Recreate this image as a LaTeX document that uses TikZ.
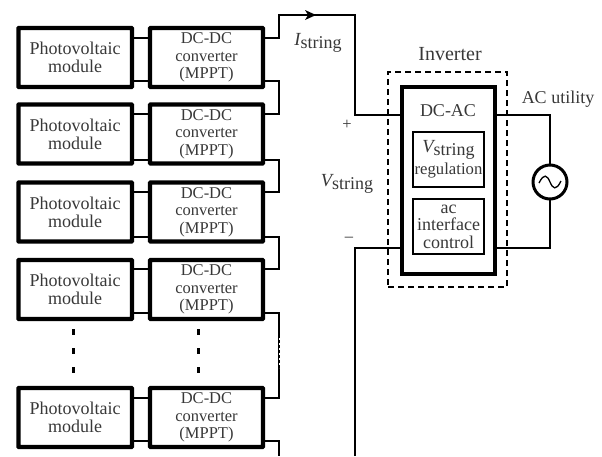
\documentclass[tikz,border=0pt]{standalone}
\usepackage{fontspec}
\setmainfont{Liberation Serif}
\definecolor{ink}{gray}{0.22}
\tikzset{
  x=1pt,y=-1pt,
  txt/.style={text=ink,font=\fontsize{16.5}{17.5}\selectfont,align=center,inner sep=0pt,outer sep=0pt},
  heavy/.style={draw=black,line width=4.2pt,inner sep=0pt,outer sep=0pt,rounded corners=0.5pt,txt},
  pvbox/.style={heavy,font=\fontsize{18}{18}\selectfont,minimum width=113.5pt,minimum height=59pt},
  dcbox/.style={heavy,minimum width=113pt,minimum height=59pt},
  wire/.style={draw=black,line width=2.2pt,line join=miter},
  thinbox/.style={draw=black,line width=2.2pt,inner sep=0pt,outer sep=0pt,minimum width=71pt,txt,font=\fontsize{18}{17.5}\selectfont},
  dotcol/.style={draw=black,line width=3pt,dash pattern=on 6pt off 13pt}
}
\newcommand{\labelsub}[2]{{\fontsize{18.5}{17}\selectfont\itshape #1}\raisebox{-3pt}{\fontsize{18}{17}\selectfont #2}}
\begin{document}
\begin{tikzpicture}
\useasboundingbox (0,0) rectangle (602,456);
% modules and converters
\node[pvbox] (p1) at (75.2,57.5) {Photovoltaic\\module};
\node[pvbox] (p2) at (75.2,134) {Photovoltaic\\module};
\node[pvbox] (p3) at (75.2,212) {Photovoltaic\\module};
\node[pvbox] (p4) at (75.2,289.5) {Photovoltaic\\module};
\node[pvbox] (p5) at (75.2,417.5) {Photovoltaic\\module};
\node[dcbox] (c1) at (206.5,57.5) {DC-DC\\converter\\(MPPT)};
\node[dcbox] (c2) at (206.5,134) {DC-DC\\converter\\(MPPT)};
\node[dcbox] (c3) at (206.5,212) {DC-DC\\converter\\(MPPT)};
\node[dcbox] (c4) at (206.5,289.5) {DC-DC\\converter\\(MPPT)};
\node[dcbox] (c5) at (206.5,417.5) {DC-DC\\converter\\(MPPT)};
% module to converter links
\draw[wire] (p1.east |- 0,38) -- (c1.west |- 0,38);
\draw[wire] (p1.east |- 0,81) -- (c1.west |- 0,81);
\draw[wire] (p2.east |- 0,114) -- (c2.west |- 0,114);
\draw[wire] (p2.east |- 0,160) -- (c2.west |- 0,160);
\draw[wire] (p3.east |- 0,192) -- (c3.west |- 0,192);
\draw[wire] (p3.east |- 0,237) -- (c3.west |- 0,237);
\draw[wire] (p4.east |- 0,269) -- (c4.west |- 0,269);
\draw[wire] (p4.east |- 0,313) -- (c4.west |- 0,313);
\draw[wire] (p5.east |- 0,398) -- (c5.west |- 0,398);
\draw[wire] (p5.east |- 0,441) -- (c5.west |- 0,441);
% series links
\draw[wire] (c1.east |- 0,81) -| (279,114) -- (c2.east |- 0,114);
\draw[wire] (c2.east |- 0,160) -| (279,192) -- (c3.east |- 0,192);
\draw[wire] (c3.east |- 0,237) -| (279,269) -- (c4.east |- 0,269);
\draw[wire] (c4.east |- 0,313) -| (279,398) -- (c5.east |- 0,398);
\draw[white,line width=1pt,dash pattern=on 2pt off 3pt] (279.6,338) -- (279.6,368);
% inverter
\node[draw=black,line width=1.1pt,dash pattern=on 6pt off 4pt,minimum width=119pt,minimum height=215pt,inner sep=0pt,outer sep=0pt] (inv) at (447.5,179.5) {};
\node[txt,font=\fontsize{20}{20}\selectfont] (invlabel) at (450,54) {Inverter};
\node[draw=black,line width=3.6pt,minimum width=93pt,minimum height=187pt,inner sep=0pt,outer sep=0pt] (dcac) at (448.5,180.5) {};
\node[txt,font=\fontsize{18}{18}\selectfont] (dcaclabel) at (448,111) {DC-AC};
\node[thinbox,minimum height=55pt] (vreg) at (448.5,159.5) {\labelsub{V}{string}\\[3pt]{\fontsize{16.7}{17}\selectfont regulation}};
\node[thinbox,minimum height=55pt] (acif) at (448.5,226.5) {ac\\interface\\control};
% string wires
\coordinate (arrowpt) at (316,15);
\draw[wire] (c1.east |- 0,38) -| (279,15) -- (355,15) -- (355,115) -- (dcac.west |- 0,115);
\fill[black] (arrowpt) -- (305,10) -- (308,15) -- (305,20) -- cycle;
\draw[wire] (c5.east |- 0,441) -| (279,456);
\draw[wire] (355,456) -- (355,248) -- (dcac.west |- 0,248);
% AC side
\node[draw=black,line width=3pt,circle,minimum size=34pt,inner sep=0pt,outer sep=0pt] (src) at (550,182) {};
\draw[wire] (dcac.east |- 0,115) -| (src.north);
\draw[wire] (dcac.east |- 0,248) -| (src.south);
\draw[black,line width=1.3pt] (539,183) .. controls (544,173) and (547,175) .. (550,182) .. controls (553,189) and (556,191) .. (561,181);
% labels
\node[txt] (ilabel) at (318,43) {\labelsub{I}{string}};
\node[txt] (vlabel) at (347,184) {\labelsub{V}{string}};
\node[txt] (plus) at (347,125) {+};
\node[txt] (minus) at (349,239) {\textendash};
\node[txt,font=\fontsize{18}{18}\selectfont] (aclabel) at (558,99) {AC utility};
% ellipsis dots
\coordinate (d1a) at (73,329); \coordinate (d1b) at (73,373);
\coordinate (d2a) at (198,329); \coordinate (d2b) at (198,373);
\draw[dotcol] (d1a) -- (d1b);
\draw[dotcol] (d2a) -- (d2b);
\end{tikzpicture}
\end{document}
